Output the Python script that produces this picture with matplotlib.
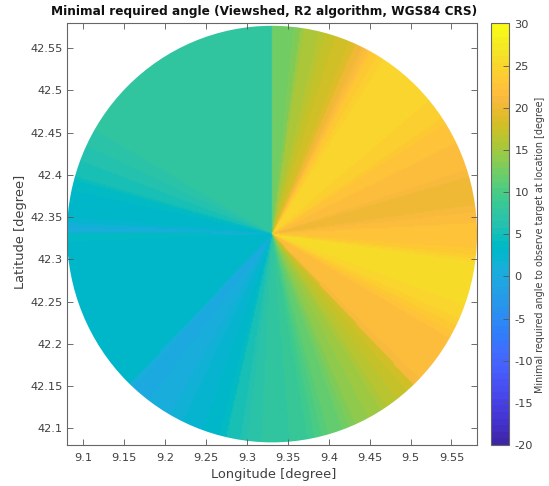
import numpy as np
import matplotlib
matplotlib.use('Agg')
import matplotlib.pyplot as plt
from matplotlib.colors import ListedColormap
from matplotlib.patches import Ellipse

parula = ListedColormap([
(0.2422,0.1504,0.6603),(0.2504,0.1650,0.7076),(0.2578,0.1818,0.7511),(0.2647,0.1978,0.7952),
(0.2706,0.2147,0.8364),(0.2751,0.2342,0.8710),(0.2783,0.2559,0.8991),(0.2803,0.2782,0.9221),
(0.2813,0.3006,0.9414),(0.2810,0.3228,0.9579),(0.2795,0.3447,0.9717),(0.2760,0.3667,0.9829),
(0.2699,0.3892,0.9906),(0.2602,0.4123,0.9952),(0.2440,0.4358,0.9988),(0.2206,0.4603,0.9973),
(0.1963,0.4847,0.9892),(0.1834,0.5074,0.9798),(0.1786,0.5289,0.9682),(0.1764,0.5499,0.9520),
(0.1687,0.5703,0.9359),(0.1540,0.5902,0.9218),(0.1460,0.6091,0.9079),(0.1380,0.6276,0.8973),
(0.1248,0.6459,0.8883),(0.1113,0.6635,0.8763),(0.0952,0.6798,0.8598),(0.0689,0.6948,0.8394),
(0.0297,0.7082,0.8163),(0.0036,0.7203,0.7917),(0.0067,0.7312,0.7660),(0.0433,0.7411,0.7394),
(0.0964,0.7500,0.7120),(0.1408,0.7584,0.6842),(0.1717,0.7670,0.6554),(0.1938,0.7758,0.6251),
(0.2161,0.7843,0.5923),(0.2470,0.7918,0.5567),(0.2906,0.7973,0.5188),(0.3406,0.8008,0.4789),
(0.3909,0.8029,0.4354),(0.4456,0.8024,0.3909),(0.5044,0.7993,0.3480),(0.5616,0.7942,0.3045),
(0.6174,0.7876,0.2612),(0.6720,0.7793,0.2227),(0.7242,0.7698,0.1910),(0.7738,0.7598,0.1646),
(0.8203,0.7498,0.1535),(0.8634,0.7406,0.1596),(0.9035,0.7330,0.1774),(0.9393,0.7288,0.2100),
(0.9728,0.7298,0.2394),(0.9956,0.7434,0.2371),(0.9970,0.7659,0.2199),(0.9952,0.7893,0.2028),
(0.9892,0.8136,0.1885),(0.9786,0.8386,0.1766),(0.9676,0.8639,0.1643),(0.9610,0.8890,0.1537),
(0.9597,0.9135,0.1423),(0.9628,0.9373,0.1265),(0.9691,0.9606,0.1064),(0.9769,0.9839,0.0805)], name='parula')

# Sector upper-edge azimuths (deg, counter-clockwise from east) and the angle read in each
sector_end = [3, 6, 8, 10, 12, 14, 16, 18, 20, 22, 24, 26, 28, 30, 32, 34, 36, 40, 50, 57, 59, 60, 61, 62, 63, 64, 65,
              66, 68, 70, 72, 73, 75, 77, 79, 81, 82, 84, 86, 90,
              148, 149, 150, 151, 152, 153.5, 155, 156.5, 158, 159.5, 161, 162.5, 164, 165, 166, 168, 170, 172, 174, 175.5, 177, 178, 179.5,
              181, 182, 184, 195, 205, 207.5, 209, 220, 226, 227.5, 230, 233, 236, 238, 240, 242, 244, 246, 248, 250, 252, 253, 254, 255, 257, 259, 261, 263, 265, 267, 270,
              275, 278, 280, 282, 284, 286, 288, 290, 292, 294, 296, 298, 300, 302, 304, 306, 307.5, 309, 311, 312.5, 313.6, 316, 320, 326, 330, 332, 334, 336, 338, 340, 345, 350, 352, 353, 354, 356, 360]
sector_val = [22.2, 21.6, 20.8, 20.2, 20.0, 20.0, 20.6, 21.2, 21.5, 21.6, 21.7, 22.0, 22.3, 22.6, 22.8, 23.4, 24.0, 24.3, 24.6, 24.6, 24.2, 23.6, 23.0, 22.2, 21.5, 21.0, 20.6,
              20.0, 19.0, 18.2, 17.6, 17.2, 16.8, 16.3, 15.8, 15.3, 14.8, 13.0, 12.5, 12.2,
              7.7, 7.5, 7.4, 7.2, 7.0, 6.8, 6.6, 6.3, 6.0, 5.8, 5.5, 5.2, 5.0, 4.6, 4.2, 3.8, 3.4, 3.2, 3.0, 2.8, 2.6, 1.6, 0.6,
              3.8, 3.8, 3.4, 3.0, 3.0, 3.2, 3.0, 2.9, 2.8, 0.8, 0.1, 0.2, 0.5, 0.8, 1.0, 1.4, 1.8, 2.0, 2.3, 2.6, 3.0, 3.4, 3.3, 3.4, 4.2, 5.0, 5.6, 6.2, 6.8, 7.2, 7.6,
              7.9, 8.2, 8.8, 9.4, 10.0, 10.8, 11.3, 11.8, 12.4, 13.0, 13.6, 14.1, 14.6, 15.1, 15.6, 16.2, 16.6, 17.0, 17.4, 17.7, 18.0, 21.2, 21.5, 21.8, 22.1, 22.6, 23.2, 24.0, 24.6, 25.0, 25.5, 25.8, 25.6, 25.0, 24.0, 23.2, 22.4]
center_lon, center_lat = 9.3306, 42.3300
radius_lon, radius_lat = 0.2506, 0.2465
lon_limits = (9.0797, 9.5808)
lat_limits = (42.0804, 42.5792)
x_ticks = [9.1, 9.15, 9.2, 9.25, 9.3, 9.35, 9.4, 9.45, 9.5, 9.55]
y_ticks = [42.1, 42.15, 42.2, 42.25, 42.3, 42.35, 42.4, 42.45, 42.5, 42.55]
x_tick_labels = ['9.1', '9.15', '9.2', '9.25', '9.3', '9.35', '9.4', '9.45', '9.5', '9.55']
y_tick_labels = ['42.1', '42.15', '42.2', '42.25', '42.3', '42.35', '42.4', '42.45', '42.5', '42.55']
cbar_ticks = [-20, -15, -10, -5, 0, 5, 10, 15, 20, 25, 30]

plt.rcParams['font.family'] = ['DejaVu Sans']
fig = plt.figure(figsize=(5.49, 4.86), dpi=100)
W, H = 549, 486
ax = fig.add_axes([66.7/W, 1-445/H, (476.7-66.7)/W, (445-23.5)/H])

n = 300
lons = np.linspace(lon_limits[0], lon_limits[1], n)
lats = np.linspace(lat_limits[0], lat_limits[1], n)
LON, LAT = np.meshgrid(lons, lats)
dx = (LON - center_lon) / radius_lon
dy = (LAT - center_lat) / radius_lat
az = np.degrees(np.arctan2(dy, dx)) % 360
Z = np.array(sector_val)[np.clip(np.searchsorted(sector_end, az), 0, len(sector_val)-1)]
im = ax.imshow(Z, origin='lower', extent=(lon_limits[0], lon_limits[1], lat_limits[0], lat_limits[1]),
               aspect='auto', cmap=parula, vmin=-20, vmax=30, interpolation='bilinear')
clip = Ellipse((center_lon, center_lat), 2*radius_lon, 2*radius_lat, transform=ax.transData,
               facecolor='none', edgecolor='none')
ax.add_patch(clip)
im.set_clip_path(clip)
ax.set_xlim(lon_limits)
ax.set_ylim(lat_limits)
ax.set_xticks(x_ticks, x_tick_labels)
ax.set_yticks(y_ticks, y_tick_labels)
grey = '#404040'
ax.tick_params(direction='in', top=True, right=True, length=4, width=0.6, color='#555555',
               labelsize=8.2, labelcolor=grey, pad=3)
ax.tick_params(axis='x', pad=6)
for s in ax.spines.values():
    s.set_color('#666666'); s.set_linewidth(0.8)
ax.set_xlabel('Longitude [degree]', fontsize=9.4, color=grey, labelpad=3, x=0.5+2/410)
ax.set_ylabel('Latitude [degree]', fontsize=9.4, color=grey, labelpad=2, y=0.5+2/421)
fig.text((51+477)/2/W, 1-11.5/H, 'Minimal required angle (Viewshed, R2 algorithm, WGS84 CRS)',
         ha='center', va='center', fontsize=8.7, fontweight='bold', color='#111111')

cax = fig.add_axes([490.7/W, 1-445/H, (509-490.7)/W, (445-23.5)/H])
cb = fig.colorbar(im, cax=cax)
cb.set_ticks(cbar_ticks, labels=[str(t) for t in cbar_ticks])
cb.ax.tick_params(direction='in', length=4, width=0.6, color='#555555', labelsize=8.2, labelcolor=grey, pad=4)
cb.outline.set_edgecolor('#666666'); cb.outline.set_linewidth(0.8)
cb.set_label('Minimal required angle to observe target at location [degree]', fontsize=6.9, color=grey, labelpad=1, y=0.5-11/421)
fig.savefig('out.png', dpi=100)
